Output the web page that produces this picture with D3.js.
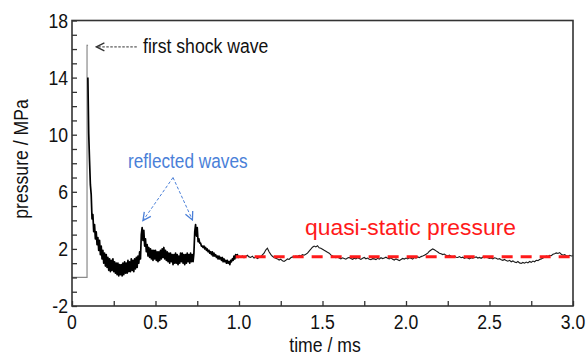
<!DOCTYPE html>
<html>
<head>
<meta charset="utf-8">
<script src="https://cdn.jsdelivr.net/npm/d3@7"></script>
<style>
  body { margin: 0; background: #fff; }
  svg text { font-family: "Liberation Sans Narrow", "Arial Narrow", "Liberation Sans", Arial, sans-serif; }
</style>
</head>
<body>
<svg id="chart"></svg>
<script>
// pre-trigger trace (grey) : [time ms, pressure MPa]
const preTrace = [[0, 0], [0.09, 0], [0.09, 16.3], [0.094, 16.2]];

// early trace, sampled every 0.005 ms starting at 0.095 ms
const earlyStart = 0.095, earlyStep = 0.005;
const earlyPressure = [
  14.0, 10.1, 8.2, 6.5, 5.8, 4.1, 4.4, 3.2, 3.7, 2.7,
  3.2, 2.3, 2.8, 1.9, 2.6, 1.6, 2.2, 1.3, 1.9, 1.0,
  1.7, 0.8, 1.6, 0.7, 1.4, 0.5, 1.3, 0.4, 1.2, 0.5,
  1.3, 0.4, 1.1, 0.3, 1.0, 0.2, 1.0, 0.1, 0.9, 0.2,
  0.9, 0.1, 1.0, 0.2, 1.1, 0.3, 1.0, 0.3, 1.2, 0.4,
  1.1, 0.4, 1.3, 0.5, 1.2, 0.4, 1.3, 0.6, 1.4, 0.7,
  1.5, 1.0, 1.8, 1.3, 3.0, 3.5, 2.6, 3.3, 2.2, 2.7,
  1.8, 2.3, 1.5, 2.1, 1.4, 2.0, 1.3, 1.9, 1.2, 1.9,
  1.3, 1.9, 1.2, 1.8, 1.1, 1.8, 1.2, 1.9, 1.3, 2.0,
  1.4, 2.1, 1.3, 1.9, 1.2, 1.8, 1.1, 1.7, 1.0, 1.7,
  1.1, 1.6, 0.9, 1.6, 1.0, 1.7, 1.0, 1.6, 0.9, 1.5,
  1.0, 1.7, 1.1, 1.7, 1.0, 1.6, 0.9, 1.6, 1.0, 1.7,
  1.1, 1.6, 1.0, 1.7, 1.1, 1.6, 1.1, 1.7, 3.2, 3.7,
  2.9, 3.5, 2.5, 2.7, 2.4, 2.4, 2.2, 2.2, 2.1, 2.2,
  2.0, 2.1, 1.9, 2.0, 1.8, 1.9, 1.7, 1.8, 1.6, 1.8,
  1.5, 1.7, 1.5, 1.6, 1.4, 1.5, 1.3, 1.5, 1.3, 1.4,
  1.2, 1.4, 1.1, 1.3, 1.1, 1.2, 1.0, 1.2, 1.0, 1.1,
  0.9, 1.2, 1.1, 1.3, 1.2, 1.5, 1.3, 1.6, 1.4, 1.6,
  1.4, 1.5
];

// late trace, sampled every 0.01 ms starting at 1.01 ms
const lateStart = 1.01, lateStep = 0.01;
const latePressure = [
  1.42, 1.50, 1.38, 1.47, 1.55, 1.44, 1.40, 1.49, 1.36, 1.43,
  1.32, 1.40, 1.45, 1.58, 1.70, 1.92, 2.05, 1.80, 1.62, 1.48,
  1.40, 1.35, 1.30, 1.22, 1.28, 1.16, 1.12, 1.20, 1.30, 1.26,
  1.38, 1.44, 1.40, 1.50, 1.46, 1.55, 1.50, 1.60, 1.56, 1.62,
  1.70, 1.85, 1.98, 2.12, 2.20, 2.14, 2.22, 2.08, 2.05, 1.98,
  1.90, 1.84, 1.76, 1.70, 1.58, 1.50, 1.44, 1.38, 1.42, 1.36,
  1.30, 1.38, 1.33, 1.28, 1.36, 1.40, 1.32, 1.27, 1.35, 1.30,
  1.38, 1.33, 1.26, 1.34, 1.40, 1.31, 1.36, 1.28, 1.24, 1.32,
  1.30, 1.25, 1.34, 1.28, 1.38, 1.32, 1.36, 1.42, 1.35, 1.30,
  1.37, 1.28, 1.22, 1.30, 1.24, 1.18, 1.26, 1.33, 1.29, 1.36,
  1.30, 1.38, 1.34, 1.28, 1.40, 1.36, 1.44, 1.39, 1.46, 1.50,
  1.55, 1.62, 1.70, 1.84, 1.92, 2.00, 1.94, 1.86, 1.78, 1.70,
  1.66, 1.60, 1.64, 1.55, 1.50, 1.56, 1.48, 1.44, 1.50, 1.42,
  1.40, 1.46, 1.38, 1.42, 1.34, 1.40, 1.36, 1.30, 1.38, 1.35,
  1.40, 1.44, 1.36, 1.40, 1.34, 1.42, 1.38, 1.45, 1.38, 1.33,
  1.36, 1.30, 1.38, 1.34, 1.28, 1.32, 1.24, 1.20, 1.26, 1.18,
  1.14, 1.20, 1.10, 1.16, 1.08, 1.04, 1.12, 1.02, 0.98, 1.05,
  1.00, 1.08, 1.02, 1.12, 1.06, 1.15, 1.10, 1.20, 1.18, 1.26,
  1.30, 1.36, 1.42, 1.50, 1.46, 1.55, 1.52, 1.62, 1.66, 1.72,
  1.68, 1.74, 1.62, 1.56, 1.60, 1.52, 1.48, 1.55, 1.50, 1.52
];

// quasi-static pressure level
const quasiStatic = [[0.98, 1.45], [3.0, 1.45]];

const yTickLabels = [-2, 2, 6, 10, 14, 18];
const xTickLabels = [0, 0.5, 1.0, 1.5, 2.0, 2.5, 3.0];

const width = 586, height = 357;
const narrow = 0.84;
const svg = d3.select("#chart").attr("width", width).attr("height", height);

const xScale = d3.scaleLinear().domain([0, 3]).range([72, 573]);
const yScale = d3.scaleLinear().domain([-2, 18]).range([306, 20.5]);

const earlyTrace = earlyPressure.map((p, i) => [earlyStart + i * earlyStep, p]);
const lateTrace = [earlyTrace[earlyTrace.length - 1]]
  .concat(latePressure.map((p, i) => [lateStart + i * lateStep, p]));

const line = d3.line()
  .x(d => xScale(d[0]))
  .y(d => yScale(d[1]));

// condensed text helper
function label(x, y, str, size, color, anchor, rot) {
  return svg.append("text")
    .attr("transform", "translate(" + x + "," + y + ")" + (rot ? " rotate(" + rot + ")" : "") + " scale(" + narrow + ",1)")
    .attr("text-anchor", anchor || "start")
    .attr("font-size", size)
    .attr("fill", color)
    .text(str);
}

// markers for annotation arrows
const defs = svg.append("defs");
function addMarker(id, color) {
  defs.append("marker")
    .attr("id", id)
    .attr("viewBox", "0 0 10 10")
    .attr("refX", 9).attr("refY", 5)
    .attr("markerWidth", 10).attr("markerHeight", 10)
    .attr("markerUnits", "userSpaceOnUse")
    .attr("orient", "auto")
    .append("path")
    .attr("d", "M1,1 L9,5 L1,9")
    .attr("fill", "none")
    .attr("stroke", color)
    .attr("stroke-width", 1.3);
}
addMarker("arrowGrey", "#333");
addMarker("arrowBlue", "#4a7fd8");

// traces
svg.append("path")
  .datum(preTrace)
  .attr("d", line)
  .attr("fill", "none")
  .attr("stroke", "#8a8a8a")
  .attr("stroke-width", 1.2);

svg.append("path")
  .datum(earlyTrace)
  .attr("d", line)
  .attr("fill", "none")
  .attr("stroke", "#000")
  .attr("stroke-width", 1.7)
  .attr("stroke-linejoin", "round");

svg.append("path")
  .datum(lateTrace)
  .attr("d", line)
  .attr("fill", "none")
  .attr("stroke", "#1a1a1a")
  .attr("stroke-width", 1.1);

svg.append("path")
  .datum(quasiStatic)
  .attr("d", line)
  .attr("fill", "none")
  .attr("stroke", "#ff1a1a")
  .attr("stroke-width", 3)
  .attr("stroke-dasharray", "11,8");

// axes (ticks point inward)
svg.append("g")
  .attr("class", "x-axis")
  .attr("transform", "translate(0," + yScale(-2) + ")")
  .call(d3.axisBottom(xScale)
    .tickValues(d3.range(0, 3.01, 0.25))
    .tickSizeInner(-5)
    .tickSizeOuter(0)
    .tickFormat(""));

svg.append("g")
  .attr("class", "y-axis")
  .attr("transform", "translate(" + xScale(0) + ",0)")
  .call(d3.axisLeft(yScale)
    .tickValues(d3.range(-2, 18.01, 1))
    .tickSizeInner(-5)
    .tickSizeOuter(0)
    .tickFormat(""));

svg.selectAll(".x-axis .domain, .y-axis .domain").remove();
svg.selectAll(".x-axis line, .y-axis line").attr("stroke", "#333").attr("stroke-width", 1.3);

// frame
svg.append("rect")
  .attr("x", xScale(0)).attr("y", yScale(18))
  .attr("width", xScale(3) - xScale(0))
  .attr("height", yScale(-2) - yScale(18))
  .attr("fill", "none")
  .attr("stroke", "#333")
  .attr("stroke-width", 1.6);

// tick labels
yTickLabels.forEach(d => label(xScale(0) - 4, yScale(d) + 7, d, 21, "#111", "end"));
xTickLabels.forEach(d => label(xScale(d), 329, d === 0 ? "0" : d.toFixed(1), 21, "#111", "middle"));

// axis titles
label(325, 352, "time / ms", 21, "#111", "middle");
label(28, 159, "pressure / MPa", 21, "#111", "middle", -90);

// annotations
svg.append("line")
  .attr("x1", xScale(0.388)).attr("y1", yScale(16.15))
  .attr("x2", xScale(0.146)).attr("y2", yScale(16.15))
  .attr("stroke", "#333")
  .attr("stroke-width", 1)
  .attr("stroke-dasharray", "2.5,1.5")
  .attr("marker-end", "url(#arrowGrey)");

label(143, 53, "first shock wave", 21, "#111");
label(128, 168, "reflected waves", 20.5, "#4a7fd8");

[[0.425, 3.98], [0.721, 4.03]].forEach(p => {
  svg.append("line")
    .attr("x1", xScale(0.605)).attr("y1", yScale(7.0))
    .attr("x2", xScale(p[0])).attr("y2", yScale(p[1]))
    .attr("stroke", "#4a7fd8")
    .attr("stroke-width", 1)
    .attr("stroke-dasharray", "3,2")
    .attr("marker-end", "url(#arrowBlue)");
});

svg.append("text")
  .attr("x", 305).attr("y", 235)
  .attr("font-size", 22)
  .attr("fill", "#ff1a1a")
  .attr("textLength", 211)
  .attr("lengthAdjust", "spacingAndGlyphs")
  .text("quasi-static pressure");
</script>
</body>
</html>
